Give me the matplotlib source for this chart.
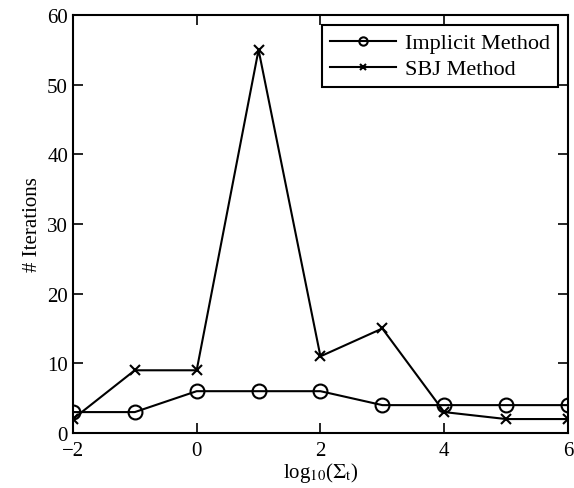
import matplotlib
matplotlib.use("Agg")
import matplotlib.pyplot as plt

x = [-2, -1, 0, 1, 2, 3, 4, 5, 6]
implicit = [3, 3, 6, 6, 6, 4, 4, 4, 4]
sbj = [2, 9, 9, 55, 11, 15, 3, 2, 2]
xticks = [-2, 0, 2, 4, 6]
yticks = [0, 10, 20, 30, 40, 50, 60]

plt.rcParams['font.family'] = ['Liberation Serif', 'DejaVu Serif']
plt.rcParams['mathtext.fontset'] = 'stix'

fig = plt.figure(figsize=(5.74, 4.89), dpi=100)
ax = fig.add_axes([0.127, 0.1125, 0.8625, 0.8548])
ax.plot(x, implicit, color='black', lw=1.5, marker='o', markersize=10,
        markerfacecolor='none', markeredgewidth=1.5, label='Implicit Method')
ax.plot(x, sbj, color='black', lw=1.5, marker='x', markersize=7,
        markeredgewidth=1.5, label='SBJ Method')
ax.set_xlim(-2, 6)
ax.set_ylim(0, 60)
ax.set_xticks(xticks)
ax.set_yticks(yticks)
ax.set_xticklabels(['\u22122' if t < 0 else str(t) for t in xticks])
ax.tick_params(direction='in', top=True, right=True, labelsize=15, length=7, width=1.2)
ax.tick_params(axis='x', pad=6)
for s in ax.spines.values():
    s.set_linewidth(1.5)
ax.set_xlabel(r'log$_{10}$($\Sigma_{\rm t}$)', fontsize=15, labelpad=0)
ax.set_ylabel('# Iterations', fontsize=15)
leg = ax.legend(loc='upper right', fontsize=16, fancybox=False, edgecolor='black',
                framealpha=1, borderpad=0.35, handlelength=3.0, handletextpad=0.4,
                labelspacing=0.25, borderaxespad=0.45, markerscale=0.6)
leg.get_frame().set_linewidth(1.5)
fig.savefig('out.png', dpi=100)
